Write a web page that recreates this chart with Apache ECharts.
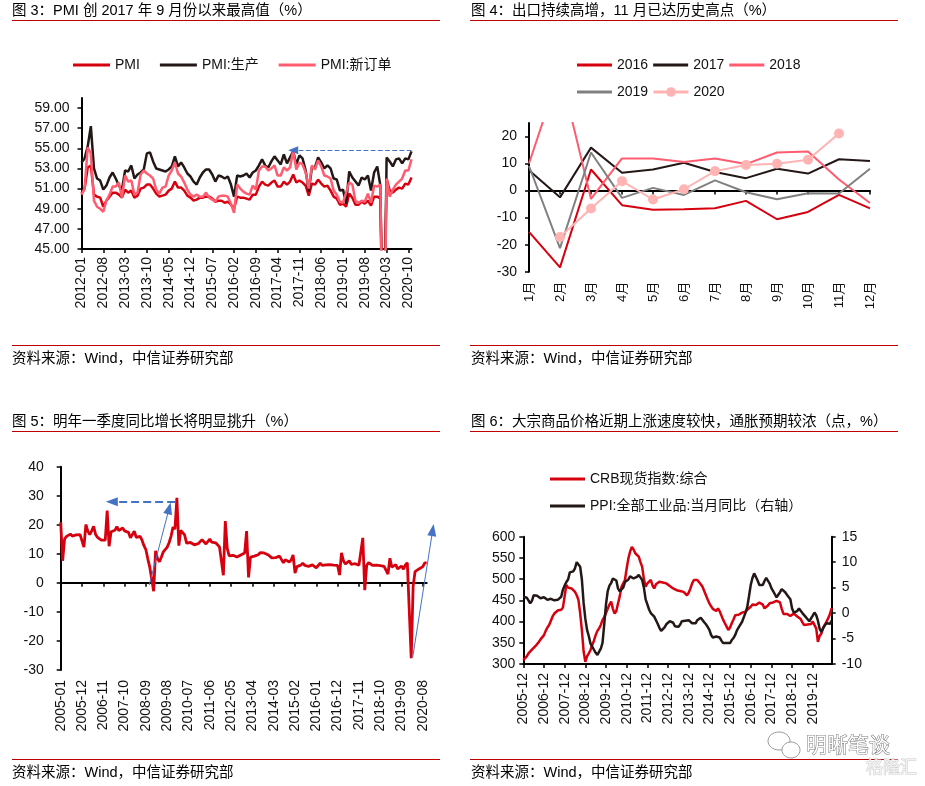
<!DOCTYPE html>
<html>
<head>
<meta charset="utf-8">
<script src="https://cdn.jsdelivr.net/npm/echarts@6.0.0/dist/echarts.min.js"></script>
<style>
html,body{margin:0;padding:0;background:#fff;}
#chart{width:925px;height:786px;}
</style>
</head>
<body>
<div id="chart"></div>
<script>
// ================= DATA =================
function monthLabels(y, m, n) {
  const out = [];
  for (let i = 0; i < n; i++) {
    const yy = y + Math.floor((m - 1 + i) / 12);
    const mm = (m - 1 + i) % 12 + 1;
    out.push(yy + '-' + String(mm).padStart(2, '0'));
  }
  return out;
}

// ---- Fig 3: PMI (2012-01 .. 2020-11) ----
const pmiMonths = monthLabels(2012, 1, 107);
const pmiYTicks = [45, 47, 49, 51, 53, 55, 57, 59];
const pmi = [
  50.5, 51.0, 53.1, 53.3, 50.4, 50.2, 50.1, 49.2, 49.8, 50.2, 50.6, 50.6,
  50.4, 50.1, 50.9, 50.6, 50.8, 50.1, 50.3, 51.0, 51.1, 51.4, 51.4, 51.0,
  50.5, 50.2, 50.3, 50.4, 50.8, 51.0, 51.7, 51.1, 51.1, 50.8, 50.3, 50.1,
  49.8, 49.9, 50.1, 50.1, 50.2, 50.2, 50.0, 49.7, 49.8, 49.8, 49.6, 49.7,
  49.4, 49.0, 50.2, 50.1, 50.1, 50.0, 49.9, 50.4, 50.4, 51.2, 51.7, 51.4,
  51.3, 51.6, 51.8, 51.2, 51.2, 51.7, 51.4, 51.7, 52.4, 51.6, 51.8, 51.6,
  51.3, 50.3, 51.5, 51.4, 51.9, 51.5, 51.2, 51.3, 50.8, 50.2, 50.0, 49.4,
  49.5, 49.2, 50.5, 50.1, 49.4, 49.4, 49.7, 49.5, 49.8, 49.3, 50.2, 50.2,
  50.0, 35.7, 52.0, 50.8, 50.6, 50.9, 51.1, 51.0, 51.5, 51.4, 52.1
];
const pmiProduction = [
  53.6, 54.0, 55.2, 57.2, 53.0, 52.0, 51.8, 50.9, 51.3, 52.1, 52.6, 52.0,
  51.3, 50.9, 52.8, 52.7, 53.3, 52.0, 52.4, 52.6, 52.9, 54.5, 54.6, 53.7,
  53.0, 52.9, 52.8, 52.7, 52.9, 53.2, 54.2, 53.2, 53.6, 53.1, 52.5, 52.2,
  51.7, 51.4, 52.1, 52.6, 52.9, 52.9, 52.4, 51.7, 52.3, 52.2, 52.0, 52.2,
  51.4, 50.2, 52.3, 52.2, 52.3, 52.5, 52.1, 52.6, 52.8, 53.3, 53.9, 53.3,
  53.1, 53.7, 54.2, 53.8, 53.4, 54.4, 53.5, 54.1, 54.7, 53.4, 54.3, 54.0,
  52.8, 50.7, 53.1, 53.1, 54.1, 53.6, 53.0, 53.3, 53.0, 52.0, 51.9, 50.8,
  50.9, 49.5, 52.7, 52.1, 51.7, 51.3, 52.1, 51.9, 52.3, 50.8, 52.6, 53.2,
  51.3, 27.8, 54.1, 53.7, 53.2, 53.9, 54.0, 53.5, 54.0, 53.9, 54.7
];
const pmiNewOrders = [
  50.4, 51.0, 55.1, 54.5, 49.8, 49.2, 49.0, 48.7, 49.8, 50.4, 51.2, 51.2,
  51.6, 50.1, 52.3, 51.7, 51.8, 50.4, 50.6, 52.4, 52.8, 52.5, 52.3, 52.0,
  50.9, 50.5, 51.1, 51.2, 52.3, 52.8, 53.6, 52.5, 52.2, 51.6, 50.9, 50.4,
  50.2, 50.4, 50.2, 50.2, 50.6, 50.1, 49.9, 49.7, 50.2, 50.3, 50.3, 50.2,
  49.5, 48.6, 51.4, 51.0, 50.7, 50.5, 50.4, 51.3, 50.9, 52.8, 53.2, 53.2,
  52.8, 53.0, 53.3, 52.3, 52.3, 53.1, 52.8, 53.1, 54.8, 52.9, 53.6, 53.4,
  52.6, 51.0, 53.3, 52.9, 53.8, 53.2, 52.3, 52.2, 52.0, 50.8, 50.4, 49.7,
  49.6, 50.6, 51.6, 51.4, 49.8, 49.6, 49.8, 49.7, 50.5, 49.6, 51.3, 51.2,
  51.4, 29.3, 52.0, 50.2, 50.9, 51.4, 51.7, 52.0, 52.8, 52.8, 53.9
];
const pmiArrow = { from: '2020-11', to: '2017-09', level: 54.8 };

// ---- Fig 4: exports YoY by month ----
const expMonths = ['1月','2月','3月','4月','5月','6月','7月','8月','9月','10月','11月','12月'];
const expYTicks = [-30, -20, -10, 0, 10, 20];
const exp2016 = [-15.3, -28.4, 7.8, -5.4, -7.1, -6.9, -6.5, -3.8, -10.6, -7.9, -1.6, -6.6];
const exp2017 = [7.5, -2.5, 15.9, 6.6, 7.8, 10.3, 6.9, 4.6, 8.1, 6.3, 11.6, 10.9];
const exp2018 = [10.0, 44.5, -3.1, 11.9, 11.9, 10.6, 11.9, 9.8, 14.1, 14.5, 4.1, -4.6];
const exp2019 = [9.1, -21.3, 14.1, -2.7, 1.0, -1.6, 3.8, -0.6, -3.2, -1.0, -1.1, 8.1];
const exp2020 = [null, -17.2, -6.6, 3.5, -3.3, 0.5, 7.2, 9.5, 9.9, 11.4, 21.1, null];

// ---- Fig 5: monthly YoY (2005-01 .. 2020-10) ----
const iaMonths = monthLabels(2005, 1, 190);
const iaTickLabels = ['2005-01','2005-12','2006-11','2007-10','2008-09','2009-08','2010-07','2011-06','2012-05',
  '2013-04','2014-03','2015-02','2016-01','2016-12','2017-11','2018-10','2019-09','2020-08'];
const iaValues = [
  20.9, 7.6, 15.1, 16.0, 16.6, 16.8, 16.1, 16.0, 16.5, 16.1, 16.6, 16.5,
  12.3, 20.1, 17.8, 16.6, 17.9, 19.5, 16.7, 15.7, 16.1, 14.7, 14.9, 14.7,
  24.9, 12.6, 17.6, 17.4, 18.1, 19.4, 18.0, 17.5, 18.9, 17.9, 17.3, 17.4,
  15.5, 15.4, 17.8, 15.7, 16.0, 16.0, 14.7, 12.8, 11.4, 8.2, 5.4, 5.7,
  -2.9, 11.0, 8.3, 7.3, 8.9, 10.7, 10.8, 12.3, 13.9, 16.1, 19.2, 18.5,
  29.3, 12.8, 18.1, 17.8, 16.5, 13.7, 13.4, 13.9, 13.3, 13.1, 13.3, 13.5,
  14.1, 14.9, 14.8, 13.4, 13.3, 15.1, 14.0, 13.5, 13.8, 13.2, 12.4, 12.8,
  2.6, 21.3, 11.9, 9.3, 9.6, 9.5, 9.2, 8.9, 9.2, 9.6, 10.1, 10.3,
  17.8, 1.9, 8.9, 9.3, 9.2, 8.9, 9.7, 10.4, 10.2, 10.3, 10.0, 9.7,
  9.5, 8.6, 8.8, 8.7, 8.8, 9.2, 9.0, 6.9, 8.0, 7.7, 7.2, 7.9,
  9.6, 3.4, 5.6, 5.9, 6.1, 6.8, 6.0, 6.1, 5.7, 5.6, 6.2, 5.9,
  5.2, 5.6, 6.8, 6.0, 6.0, 6.2, 6.0, 6.3, 6.1, 6.1, 6.2, 6.0,
  2.7, 10.3, 7.6, 6.5, 6.5, 7.6, 6.4, 6.0, 6.6, 6.2, 6.1, 6.2,
  15.5, -2.5, 6.0, 7.0, 6.8, 6.0, 6.0, 6.1, 5.8, 5.9, 5.4, 5.7,
  5.6, 3.0, 8.5, 5.4, 5.0, 6.3, 4.8, 4.4, 5.8, 4.7, 6.2, 6.9,
  null, -25.9, -1.1, 3.9, 4.4, 4.8, 4.8, 5.6, 6.9, 6.9
];
// annotation arrows (month index, value): [fromX, fromY, toX, toY, dashed]
const iaArrows = [
  [59.1, 27.9, 26.4, 27.9, true],
  [45.7, -0.8, 56.0, 25.7, false],
  [181.8, -25.5, 192.1, 18.2, false]
];
const iaAnnoMax = 200; // extent of the hidden annotation axis (month index)

// ---- Fig 6: CRB & PPI (2005-12 .. 2020-11) ----
const crbMonths = monthLabels(2005, 12, 180);
const crbIndex = [
  309, 312, 318, 325, 329, 334, 338, 342, 345, 352, 358, 362,
  368, 378, 386, 392, 402, 412, 419, 422, 426, 429, 428, 433,
  460, 486, 480, 476, 478, 474, 470, 462, 451, 420, 380, 330,
  305, 318, 325, 333, 345, 355, 368, 378, 384, 392, 404, 410,
  420, 423, 440, 447, 430, 419, 425, 443, 460, 482, 490, 498,
  525, 549, 565, 576, 570, 561, 557, 553, 540, 529, 500, 482,
  490, 494, 498, 485, 478, 488, 490, 494, 494, 492, 488, 490,
  486, 484, 482, 478, 476, 474, 476, 472, 474, 470, 466, 462,
  468, 478, 490, 498, 502, 498, 494, 488, 482, 472, 462, 452,
  443, 436, 430, 427, 425, 431, 424, 414, 404, 396, 388, 380,
  386, 396, 405, 415, 418, 416, 419, 421, 425, 423, 428, 432,
  435, 440, 438, 439, 443, 445, 447, 440, 431, 434, 438, 443,
  440, 445, 447, 449, 451, 445, 430, 418, 415, 418, 415, 413,
  417, 419, 416, 412, 410, 406, 398, 392, 388, 393, 396, 394,
  400, 402, 384, 352, 366, 372, 385, 392, 400, 408, 418, 432
];
const ppiYoY = [
  3.2,
  3.1, 3.0, 2.5, 1.9, 2.4, 3.5, 3.6, 3.4, 3.5, 2.9, 2.8, 3.1,
  3.3, 2.6, 2.7, 2.8, 2.8, 2.5, 2.4, 2.6, 2.7, 3.2, 4.6, 5.4,
  6.1, 6.6, 8.0, 8.1, 8.2, 8.8, 10.0, 10.1, 9.1, 6.6, 2.0, -1.1,
  -3.3, -4.5, -6.0, -6.6, -7.2, -7.8, -8.2, -7.9, -7.0, -5.8, -2.1, 1.7,
  4.3, 5.4, 5.9, 6.8, 7.1, 6.4, 4.8, 4.3, 4.3, 5.0, 6.1, 5.9,
  6.6, 7.2, 7.3, 6.8, 6.8, 7.1, 7.5, 7.3, 6.5, 5.0, 2.7, 1.7,
  0.7, 0.0, -0.3, -0.7, -1.4, -2.1, -2.9, -3.5, -3.6, -2.8, -2.2, -1.9,
  -1.6, -1.6, -1.9, -2.6, -2.9, -2.7, -2.3, -1.6, -1.3, -1.5, -1.4, -1.4,
  -1.6, -2.0, -2.3, -2.0, -1.4, -1.1, -0.9, -1.2, -1.8, -2.2, -2.7, -3.3,
  -4.3, -4.8, -4.6, -4.6, -4.6, -4.8, -5.4, -5.9, -5.9, -5.9, -5.9, -5.9,
  -5.3, -4.9, -4.3, -3.4, -2.8, -2.6, -1.7, -0.8, 0.1, 1.2, 3.3, 5.5,
  6.9, 7.8, 7.6, 6.4, 5.5, 5.5, 5.5, 6.3, 6.9, 6.9, 5.8, 4.9,
  4.3, 3.7, 3.1, 3.4, 4.1, 4.7, 4.6, 4.1, 3.6, 3.3, 2.7, 0.9,
  0.1, 0.1, 0.4, 0.9, 0.6, 0.0, -0.3, -0.8, -1.2, -1.6, -1.4, -0.5,
  0.1, -0.4, -1.5, -3.1, -3.7, -3.0, -2.4, -2.0, -2.1, -2.1, -1.5
];

// ================= STYLE =================
const FONT = '"Liberation Sans", Arial, "Noto Sans CJK SC", sans-serif';
const RED = '#D7000F', BLACK = '#231815', PINK = '#FF5C70', LPINK = '#FFB3B3', GRAY = '#808080', BLUE = '#4472C4';
const LINE_RED = '#C00000';
const AX = { color: '#000', width: 2 };
const LBL = { color: '#111', fontSize: 14, fontFamily: FONT };
const LEG_TXT = { fontSize: 14, color: '#111', fontFamily: FONT };

const iaTickIdx = iaTickLabels.map(l => iaMonths.indexOf(l));
const iaData = iaValues.map((v, i) => [i, v]);

// grid geometry
const G0 = { left: 81.5, top: 98, width: 330, height: 151 };
const G1 = { left: 529, top: 123, width: 341, height: 148.7 };
const G2 = { left: 60.7, top: 466.7, width: 366, height: 203.3 };
const G3 = { left: 523.3, top: 536.7, width: 308.4, height: 127.3 };
// hidden annotation grid sharing the scale of G2 but reaching further right
const G4 = { left: G2.left, top: G2.top, height: G2.height, width: G2.width * iaAnnoMax / (iaMonths.length - 1) };

function txt(x, y, text, size, extra) {
  return { type: 'text', silent: true, style: Object.assign({
    x: x, y: y, text: text, font: size + 'px ' + FONT, fill: '#000', verticalAlign: 'middle', align: 'left'
  }, extra || {}) };
}
function hline(x1, x2, y) {
  return { type: 'line', silent: true, shape: { x1: x1, y1: y, x2: x2, y2: y }, style: { stroke: LINE_RED, lineWidth: 1.2 } };
}
function bubble(cx, cy, rx, ry) {
  return { type: 'ellipse', silent: true, shape: { cx: cx, cy: cy, rx: rx, ry: ry },
    style: { fill: '#fff', stroke: '#9a9a9a', lineWidth: 1 } };
}

const option = {
  animation: false,
  backgroundColor: '#fff',
  textStyle: { fontFamily: FONT },
  grid: [G0, G1, G2, G3, G4],
  legend: [
    { data: ['PMI', 'PMI:生产', 'PMI:新订单'], left: 73, top: 58, padding: 0, icon: 'rect', itemWidth: 37, itemHeight: 3, itemGap: 20,
      textStyle: LEG_TXT, selectedMode: false },
    { data: ['2016', '2017', '2018'], left: 577, top: 58, padding: 0, icon: 'rect', itemWidth: 35, itemHeight: 3, itemGap: 5,
      textStyle: LEG_TXT, selectedMode: false },
    { data: ['2019'], left: 577, top: 85, padding: 0, icon: 'rect', itemWidth: 35, itemHeight: 3,
      textStyle: LEG_TXT, selectedMode: false },
    { data: ['2020'], left: 652, top: 85, padding: 0, itemWidth: 35, itemHeight: 12,
      textStyle: LEG_TXT, lineStyle: { width: 3 }, selectedMode: false },
    { data: ['CRB现货指数:综合', 'PPI:全部工业品:当月同比（右轴）'], left: 550, top: 472, padding: 0, orient: 'vertical',
      icon: 'rect', itemWidth: 35, itemHeight: 3, itemGap: 13,
      textStyle: LEG_TXT, selectedMode: false }
  ],
  xAxis: [
    { gridIndex: 0, type: 'category', data: pmiMonths, boundaryGap: false,
      axisLine: { onZero: false, lineStyle: AX },
      axisTick: { interval: 6, length: 4, lineStyle: { color: '#000', width: 1.5 } },
      axisLabel: Object.assign({ interval: 6, rotate: 90, margin: 8 }, LBL), splitLine: { show: false } },
    { gridIndex: 1, type: 'category', data: expMonths, boundaryGap: false, position: 'bottom',
      axisLine: { show: false, onZero: false }, axisTick: { show: false },
      axisLabel: Object.assign({ interval: 0, rotate: 90, margin: 10 }, LBL, { fontSize: 13 }), splitLine: { show: false } },
    { gridIndex: 1, type: 'category', data: expMonths, boundaryGap: false, position: 'top',
      axisLine: { onZero: true, lineStyle: AX },
      axisTick: { inside: true, interval: 0, length: 4, lineStyle: { color: '#000', width: 1.5 } },
      axisLabel: { show: false }, splitLine: { show: false } },
    { gridIndex: 2, type: 'value', min: 0, max: iaMonths.length - 1, position: 'bottom',
      axisLine: { show: false, onZero: false }, axisTick: { show: false }, splitLine: { show: false },
      axisLabel: Object.assign({ customValues: iaTickIdx, formatter: v => iaMonths[v] || '', rotate: 90, margin: 10 }, LBL) },
    { gridIndex: 2, type: 'value', min: 0, max: iaMonths.length - 1, position: 'top',
      axisLine: { show: true, onZero: true, lineStyle: AX },
      axisTick: { show: true, customValues: iaTickIdx, inside: true, length: 4, lineStyle: { color: '#000', width: 1.5 } },
      axisLabel: { show: false }, splitLine: { show: false } },
    { gridIndex: 3, type: 'category', data: crbMonths, boundaryGap: false,
      axisLine: { onZero: false, lineStyle: AX },
      axisTick: { interval: 11, length: 4, lineStyle: { color: '#000', width: 1.5 } },
      axisLabel: Object.assign({ interval: 11, rotate: 90, margin: 9 }, LBL), splitLine: { show: false } },
    { gridIndex: 4, type: 'value', min: 0, max: iaAnnoMax, show: false, splitLine: { show: false } }
  ],
  yAxis: [
    { gridIndex: 0, type: 'value', min: 45, max: 60,
      axisLine: { show: true, onZero: false, lineStyle: AX },
      axisTick: { show: true, customValues: pmiYTicks, length: 4, lineStyle: { color: '#000', width: 1.5 } },
      axisLabel: Object.assign({ customValues: pmiYTicks, formatter: v => v.toFixed(2), margin: 12 }, LBL),
      splitLine: { show: false } },
    { gridIndex: 1, type: 'value', min: -30, max: 25,
      axisLine: { show: true, onZero: false, lineStyle: AX },
      axisTick: { show: true, customValues: expYTicks, length: 4, lineStyle: { color: '#000', width: 1.5 } },
      axisLabel: Object.assign({ customValues: expYTicks, margin: 12 }, LBL),
      splitLine: { show: false } },
    { gridIndex: 2, type: 'value', min: -30, max: 40, interval: 10,
      axisLine: { show: true, onZero: false, lineStyle: AX },
      axisTick: { show: true, length: 4, lineStyle: { color: '#000', width: 1.5 } },
      axisLabel: Object.assign({ margin: 17 }, LBL), splitLine: { show: false } },
    { gridIndex: 3, type: 'value', min: 300, max: 600, interval: 50,
      axisLine: { show: true, onZero: false, lineStyle: AX },
      axisTick: { show: true, length: 4, lineStyle: { color: '#000', width: 1.5 } },
      axisLabel: Object.assign({ margin: 8 }, LBL), splitLine: { show: false } },
    { gridIndex: 3, type: 'value', position: 'right', min: -10, max: 15, interval: 5,
      axisLine: { show: true, onZero: false, lineStyle: AX },
      axisTick: { show: true, length: 4, lineStyle: { color: '#000', width: 1.5 } },
      axisLabel: Object.assign({ margin: 10 }, LBL), splitLine: { show: false } },
    { gridIndex: 4, type: 'value', min: -30, max: 40, show: false, splitLine: { show: false } }
  ],
  series: [
    { name: 'PMI', type: 'line', xAxisIndex: 0, yAxisIndex: 0, data: pmi, symbol: 'none',
      lineStyle: { color: RED, width: 2.5 }, itemStyle: { color: RED } },
    { name: 'PMI:生产', type: 'line', xAxisIndex: 0, yAxisIndex: 0, data: pmiProduction, symbol: 'none',
      lineStyle: { color: BLACK, width: 2.5 }, itemStyle: { color: BLACK } },
    { name: 'PMI:新订单', type: 'line', xAxisIndex: 0, yAxisIndex: 0, data: pmiNewOrders, symbol: 'none',
      lineStyle: { color: PINK, width: 2.5 }, itemStyle: { color: PINK },
      markLine: { silent: true, animation: false, label: { show: false }, symbolSize: [8, 10],
        lineStyle: { color: BLUE, type: 'dashed', width: 1.2 }, itemStyle: { color: BLUE },
        data: [[{ coord: [pmiArrow.from, pmiArrow.level], symbol: 'none' },
                { coord: [pmiArrow.to, pmiArrow.level], symbol: 'triangle' }]] } },

    { name: '2016', type: 'line', xAxisIndex: 1, yAxisIndex: 1, data: exp2016, symbol: 'none',
      lineStyle: { color: RED, width: 2 }, itemStyle: { color: RED } },
    { name: '2017', type: 'line', xAxisIndex: 1, yAxisIndex: 1, data: exp2017, symbol: 'none',
      lineStyle: { color: BLACK, width: 2 }, itemStyle: { color: BLACK } },
    { name: '2018', type: 'line', xAxisIndex: 1, yAxisIndex: 1, data: exp2018, symbol: 'none',
      lineStyle: { color: PINK, width: 2 }, itemStyle: { color: PINK } },
    { name: '2019', type: 'line', xAxisIndex: 1, yAxisIndex: 1, data: exp2019, symbol: 'none',
      lineStyle: { color: GRAY, width: 2 }, itemStyle: { color: GRAY } },
    { name: '2020', type: 'line', xAxisIndex: 1, yAxisIndex: 1, data: exp2020, symbol: 'circle', symbolSize: 10,
      showSymbol: true, lineStyle: { color: LPINK, width: 2 }, itemStyle: { color: LPINK, borderWidth: 0 } },

    { name: '同比', type: 'line', xAxisIndex: 3, yAxisIndex: 2, data: iaData, symbol: 'none', connectNulls: true,
      lineStyle: { color: RED, width: 2.8 }, itemStyle: { color: RED } },
    { name: '标注', type: 'line', xAxisIndex: 6, yAxisIndex: 5, data: [], symbol: 'none', clip: false,
      lineStyle: { color: BLUE }, itemStyle: { color: BLUE },
      markLine: { silent: true, animation: false, label: { show: false }, symbolSize: [9, 12],
        lineStyle: { color: BLUE, width: 1 }, itemStyle: { color: BLUE },
        data: iaArrows.map(a => [
          { coord: [a[0], a[1]], symbol: 'none', lineStyle: { color: BLUE, width: a[4] ? 2 : 1, type: a[4] ? 'dashed' : 'solid' } },
          { coord: [a[2], a[3]], symbol: 'triangle' }
        ]) } },

    { name: 'CRB现货指数:综合', type: 'line', xAxisIndex: 5, yAxisIndex: 3, data: crbIndex, symbol: 'none',
      lineStyle: { color: RED, width: 2.5 }, itemStyle: { color: RED } },
    { name: 'PPI:全部工业品:当月同比（右轴）', type: 'line', xAxisIndex: 5, yAxisIndex: 4, data: ppiYoY, symbol: 'none',
      lineStyle: { color: BLACK, width: 2.5 }, itemStyle: { color: BLACK } }
  ],
  graphic: [
    txt(12, 11, '图 3：PMI 创 2017 年 9 月份以来最高值（%）', 14.5),
    txt(471, 11, '图 4：出口持续高增，11 月已达历史高点（%）', 14.5),
    txt(12, 422, '图 5：明年一季度同比增长将明显挑升（%）', 14.5),
    txt(471, 422, '图 6：大宗商品价格近期上涨速度较快，通胀预期较浓（点，%）', 14.5),
    hline(12, 440, 20.5), hline(470, 898, 20.5), hline(12, 440, 431.5), hline(470, 898, 431.5),
    hline(12, 440, 345.5), hline(470, 898, 345.5), hline(12, 440, 759.5), hline(470, 898, 759.5),
    txt(12, 359, '资料来源：Wind，中信证券研究部', 14.5),
    txt(471, 359, '资料来源：Wind，中信证券研究部', 14.5),
    txt(12, 773, '资料来源：Wind，中信证券研究部', 14.5),
    txt(471, 773, '资料来源：Wind，中信证券研究部', 14.5),
    bubble(779, 741, 11, 9), bubble(791, 750, 9, 8),
    txt(806, 746, '明晰笔谈', 21, { fill: '#ffffff', stroke: '#7a7a7a', lineWidth: 1 }),
    txt(866, 768, '格隆汇', 17, { fill: '#f2f2f2', stroke: '#d0d0d0', lineWidth: 1 })
  ]
};

const chart = echarts.init(document.getElementById('chart'), null, { renderer: 'canvas' });
chart.setOption(option);
</script>
</body>
</html>
